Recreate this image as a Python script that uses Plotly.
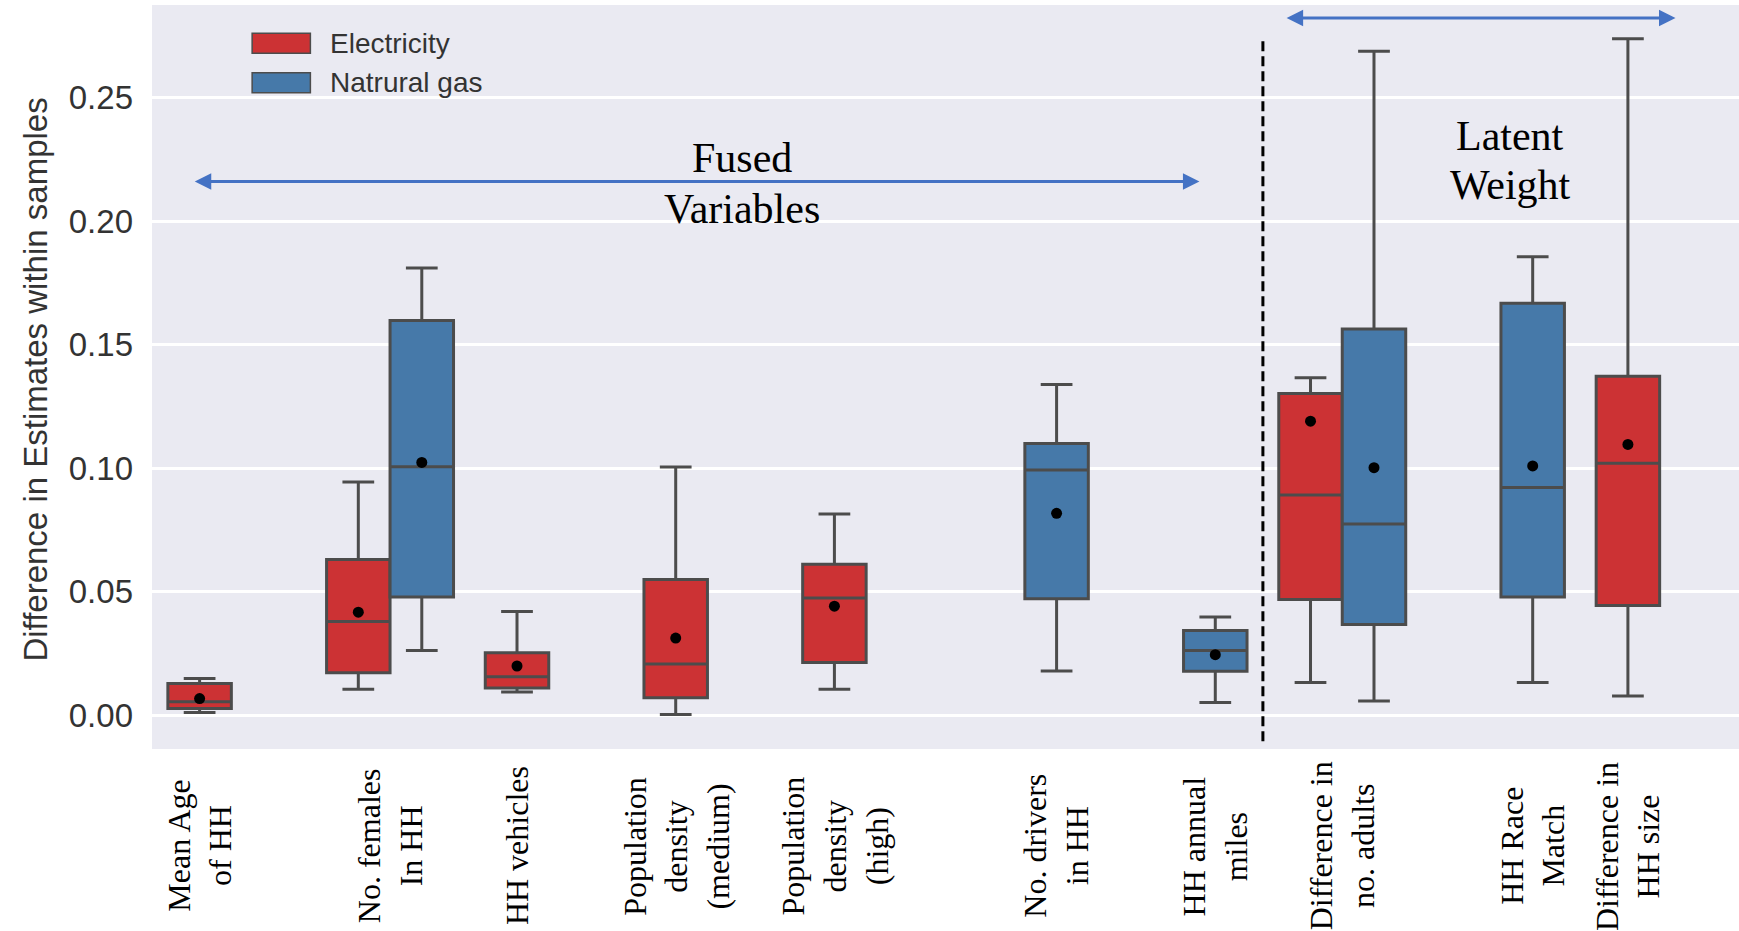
import plotly.graph_objects as go

# ---------------- data ----------------
categories = [
    "Mean Age<br>of HH", "No. females<br>In HH", "HH vehicles",
    "Population<br>density<br>(medium)", "Population<br>density<br>(high)",
    "No. drivers<br>in HH", "HH annual<br>miles", "Difference in<br>no. adults",
    "HH Race<br>Match", "Difference in<br>HH size",
]

elec_cat = [0, 1, 2, 3, 4, 7, 9]
elec_low = [0.0011, 0.0105, 0.0094, 0.0003, 0.0105, 0.0132, 0.0078]
elec_q1 = [0.0027, 0.0172, 0.0110, 0.0070, 0.0213, 0.0468, 0.0444]
elec_med = [0.0054, 0.0379, 0.0155, 0.0207, 0.0474, 0.0891, 0.1020]
elec_q3 = [0.0128, 0.0630, 0.0253, 0.0549, 0.0611, 0.1302, 0.1372]
elec_high = [0.0148, 0.0944, 0.0420, 0.1005, 0.0814, 0.1366, 0.2738]
elec_mean = [0.0067, 0.0417, 0.0199, 0.0312, 0.0441, 0.1190, 0.1096]

gas_cat = [1, 5, 6, 7, 8]
gas_low = [0.0262, 0.0179, 0.0051, 0.0057, 0.0132]
gas_q1 = [0.0478, 0.0471, 0.0178, 0.0367, 0.0478]
gas_med = [0.1006, 0.0993, 0.0262, 0.0774, 0.0922]
gas_q3 = [0.1598, 0.1100, 0.0343, 0.1563, 0.1668]
gas_high = [0.1810, 0.1339, 0.0397, 0.2688, 0.1856]
gas_mean = [0.1023, 0.0817, 0.0245, 0.1002, 0.1009]

series_names = ["Electricity", "Natrural gas"]
yticks = [0.00, 0.05, 0.10, 0.15, 0.20, 0.25]

# ---------------- style ----------------
RED = "#CC3234"
BLUE = "#4679A9"
EDGE = "#4C4C4C"
ARROW = "#4472C4"
BG = "#EAEAF2"
SANS = "Liberation Sans, Arial, sans-serif"
SERIF = "Liberation Serif, Times New Roman, serif"
HUE_OFF = 0.2
BOX_W = 0.4

elec_x = [c - HUE_OFF for c in elec_cat]
gas_x = [c + HUE_OFF for c in gas_cat]

fig = go.Figure()
for xs, lo, q1, md, q3, hi, col, nm in [
    (elec_x, elec_low, elec_q1, elec_med, elec_q3, elec_high, RED, series_names[0]),
    (gas_x, gas_low, gas_q1, gas_med, gas_q3, gas_high, BLUE, series_names[1]),
]:
    fig.add_trace(go.Box(
        x=xs, q1=q1, median=md, q3=q3, lowerfence=lo, upperfence=hi,
        width=BOX_W, fillcolor=col, line=dict(color=EDGE, width=3),
        whiskerwidth=0.5, boxpoints=False, name=nm, showlegend=False,
        hoverinfo="skip",
    ))

fig.add_trace(go.Scatter(x=elec_x + gas_x, y=elec_mean + gas_mean, mode="markers",
                         marker=dict(color="black", size=11), showlegend=False,
                         hoverinfo="skip"))

# label positions: centre of the boxes present for each category
label_x = []
for i in range(len(categories)):
    pos = [x for x, c in zip(elec_x, elec_cat) if c == i] + [x for x, c in zip(gas_x, gas_cat) if c == i]
    label_x.append(sum(pos) / len(pos))

annotations = []
for lx, txt in zip(label_x, categories):
    annotations.append(dict(x=lx, y=-0.1305, xref="x", yref="paper", text=txt,
                            textangle=-90, showarrow=False, xanchor="center",
                            yanchor="middle", align="center",
                            font=dict(family=SERIF, size=32, color="black")))

# y-axis title
annotations.append(dict(x=-0.0735, y=0.497, xref="paper", yref="paper",
                        text="Difference in Estimates within samples", textangle=-90,
                        showarrow=False, xanchor="center", yanchor="middle",
                        font=dict(family=SANS, size=33, color="#333333")))

# group texts
for txt, gx, gy in [("Fused", 3.22, 0.2255), ("Variables", 3.22, 0.2051),
                    ("Latent", 8.06, 0.2343), ("Weight", 8.06, 0.2148)]:
    annotations.append(dict(x=gx, y=gy, xref="x", yref="y", text=txt, showarrow=False,
                            xanchor="center", yanchor="middle",
                            font=dict(family=SERIF, size=42, color="black")))

# double headed arrows
for x0, x1, ya in [(-0.24, 6.10, 0.216), (6.64, 9.10, 0.2822)]:
    annotations.append(dict(x=x1, y=ya, ax=x0, ay=ya, xref="x", yref="y", axref="x",
                            ayref="y", text="", showarrow=True, arrowhead=2,
                            arrowside="end+start", arrowsize=1.1, arrowwidth=3,
                            arrowcolor=ARROW))

# legend (manual)
shapes = []
for j, (nm, col) in enumerate(zip(series_names, [RED, BLUE])):
    y_top = 0.962 - j * 0.053
    shapes.append(dict(type="rect", xref="paper", yref="paper", x0=0.0631, x1=0.0998,
                       y0=y_top - 0.027, y1=y_top, fillcolor=col,
                       line=dict(color=EDGE, width=1.5)))
    annotations.append(dict(x=0.111, y=y_top - 0.0135, xref="paper", yref="paper",
                            text=nm, showarrow=False, xanchor="left", yanchor="middle",
                            font=dict(family=SANS, size=28, color="#333333")))

# dashed separator
shapes.append(dict(type="line", xref="x", yref="y", x0=6.5, x1=6.5, y0=-0.0106, y1=0.2735,
                   line=dict(color="black", width=3, dash="10px,5px")))

fig.update_layout(
    width=1739, height=931,
    margin=dict(l=151.5, r=0, t=5, b=181.7),
    paper_bgcolor="white", plot_bgcolor=BG,
    xaxis=dict(range=[-0.5, 9.5], showticklabels=False, showgrid=False,
               zeroline=False, showline=False, ticks=""),
    yaxis=dict(range=[-0.0137, 0.2875], tickvals=yticks, tickformat=".2f",
               showgrid=True, gridcolor="white", gridwidth=2.5, zeroline=False,
               showline=False, ticks="", ticklabelstandoff=18,
               tickfont=dict(family=SANS, size=33, color="#333333")),
    annotations=annotations, shapes=shapes,
    showlegend=False,
)

fig.write_html("out.html", config={"displayModeBar": False},
               post_script="document.body.style.margin='0';")
